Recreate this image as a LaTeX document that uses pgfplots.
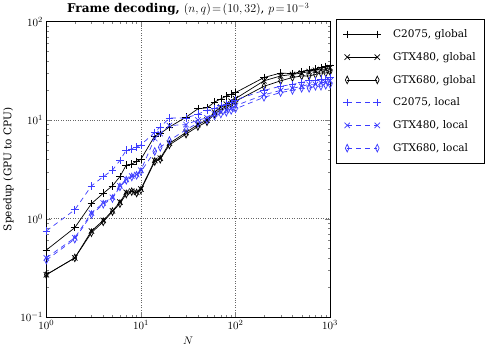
\documentclass[border=0pt]{standalone}
\usepackage{fontspec}
\setmainfont{DejaVu Serif}
\usepackage{pgfplots}
\pgfplotsset{compat=1.18}
\definecolor{locblue}{RGB}{60,60,255}

\begin{document}
\begin{tikzpicture}
\begin{axis}[
    scale only axis,
    width=283pt, height=295pt,
    xmode=log, ymode=log,
    xmin=1, xmax=1000, ymin=0.1, ymax=100,
    axis line style={line width=0.9pt},
    tick align=inside,
    xtick pos=both, ytick pos=both,
    major tick length=5pt, minor tick length=2.5pt,
    grid=major,
    major grid style={dotted, line width=0.6pt, black!60},
    tick label style={font=\fontsize{11}{13}\selectfont},
    xlabel={$N$},
    ylabel={Speedup (GPU to CPU)},
    label style={font=\fontsize{10.5}{12}\selectfont},
    title={\textbf{Frame decoding,} $(n,q)\!=\!(10,32)$, $p\!=\!10^{-3}$},
    title style={font=\fontsize{12}{14}\selectfont, yshift=-4pt},
    legend style={at={(rel axis cs:1.021,1.007)}, anchor=north west,
        font=\fontsize{10.5}{12}\selectfont, draw=black, line width=0.6pt,
        row sep=9.2pt, column sep=10pt, inner xsep=7pt, inner ysep=8pt},
    legend cell align={left},
    legend image code/.code={\draw[#1] plot coordinates {(0pt,0pt) (30pt,0pt)};},
    every axis plot/.append style={line width=0.7pt, mark size=3.8pt},
]
\addplot[black, mark=+] coordinates {
 (1,0.48) (2,0.81) (3,1.42) (4,1.81) (5,2.15) (6,2.67) (7,3.5) (8,3.58) (9,3.8) (10,4.0)
 (14,6.9) (16,7.3) (20,8.5) (30,10.7) (40,13.0) (50,13.3) (60,15.2) (70,16.4) (80,17.5) (90,18.3)
 (100,19) (200,27) (300,30) (400,29.5) (500,31) (600,32) (700,33) (800,34) (900,35) (1000,36)
};
\addlegendentry{C2075, global}
\addplot[black, mark=x] coordinates {
 (1,0.27) (2,0.40) (3,0.75) (4,0.96) (5,1.2) (6,1.47) (7,1.85) (8,1.9) (9,1.85) (10,2.0)
 (14,3.9) (16,4.1) (20,5.8) (30,7.5) (40,9.0) (50,10.0) (60,12.0) (70,13.5) (80,14.5) (90,15.5)
 (100,16.5) (200,25) (300,28) (400,29) (500,30) (600,31) (700,32) (800,32.5) (900,33) (1000,34)
};
\addlegendentry{GTX480, global}
\addplot[black, mark=diamond, mark options={xscale=0.65}] coordinates {
 (1,0.27) (2,0.40) (3,0.72) (4,0.93) (5,1.18) (6,1.42) (7,1.78) (8,1.88) (9,1.82) (10,1.95)
 (14,3.8) (16,4.0) (20,5.6) (30,7.2) (40,8.6) (50,9.6) (60,11.5) (70,12.8) (80,13.8) (90,14.5)
 (100,15.5) (200,22) (300,25) (400,27) (500,28) (600,28) (700,29) (800,30) (900,30) (1000,31)
};
\addlegendentry{GTX680, global}
\addplot[color=locblue, dash pattern=on 5pt off 4pt, mark=+, mark options={solid, locblue}] coordinates {
 (1,0.75) (2,1.23) (3,2.15) (4,2.67) (5,3.1) (6,3.9) (7,4.95) (8,5.1) (9,5.3) (10,5.6)
 (14,7.5) (16,8.5) (20,10.5) (30,10.5) (40,11.5) (50,12.5) (60,13) (70,14) (80,14.5) (90,15)
 (100,16) (200,20) (300,22) (400,23) (500,24) (600,25) (700,25) (800,26) (900,26) (1000,27)
};
\addlegendentry{C2075, local}
\addplot[color=locblue, dash pattern=on 5pt off 4pt, mark=x, mark options={solid, locblue}] coordinates {
 (1,0.40) (2,0.64) (3,1.14) (4,1.44) (5,1.65) (6,2.15) (7,2.5) (8,2.7) (9,2.8) (10,3.1)
 (14,6.5) (16,7.3) (20,8.8) (30,9.0) (40,10) (50,10.5) (60,11.5) (70,12) (80,12.5) (90,13)
 (100,14) (200,18) (300,20) (400,21) (500,22) (600,23) (700,23) (800,24) (900,24) (1000,25)
};
\addlegendentry{GTX480, local}
\addplot[color=locblue, dash pattern=on 5pt off 4pt, mark=diamond, mark options={solid, locblue, xscale=0.65}] coordinates {
 (1,0.38) (2,0.62) (3,1.1) (4,1.40) (5,1.6) (6,2.1) (7,2.45) (8,2.65) (9,2.75) (10,3.0)
 (14,4.8) (16,5.3) (20,6.2) (30,8.0) (40,9.3) (50,10.0) (60,11) (70,11.5) (80,12) (90,12.5)
 (100,13) (200,17) (300,19) (400,20) (500,21) (600,21) (700,22) (800,22) (900,22.5) (1000,23)
};
\addlegendentry{GTX680, local}
\end{axis}
\end{tikzpicture}
\end{document}
